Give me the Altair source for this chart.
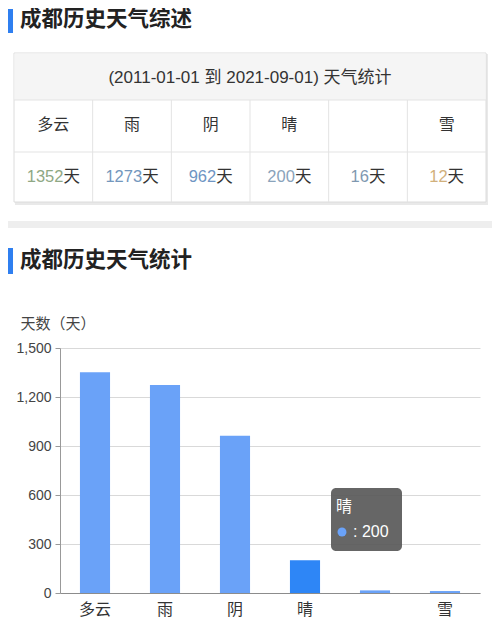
import altair as alt
import pandas as pd

FONT = "Liberation Sans, Noto Sans CJK SC, sans-serif"

# ---- data ----
categories = ["多云", "雨", "阴", "晴", " ", "雪"]
days = [1352, 1273, 962, 200, 16, 12]
value_colors = ["#8fa884", "#7397bd", "#6f95c3", "#8aa3bb", "#7f98b0", "#d1b07c"]
y_ticks = [0, 300, 600, 900, 1200, 1500]
title_summary = "成都历史天气综述"
title_stats = "成都历史天气统计"
table_header = "(2011-01-01 到 2021-09-01) 天气统计"
day_unit = "天"
y_title = "天数（天）"
highlight = "晴"

df = pd.DataFrame({
    "cat": categories,
    "days": days,
    "idx": list(range(len(categories))),
    "numstr": [str(d) for d in days],
})
one = alt.Chart(pd.DataFrame({"k": [0]}))
base = alt.Chart(df)


def X(field):
    return alt.X(field, type="quantitative",
                 scale=alt.Scale(domain=[0, 6], range=[-46, 426]), axis=None)


# ---- panel 1: summary table ----
bar1 = one.mark_rect(fill="#2f7ff0").encode(
    x=alt.value(-52), x2=alt.value(-47), y=alt.value(-2), y2=alt.value(22))
t1 = one.mark_text(text=title_summary, font=FONT, fontSize=21.5, fontWeight="bold",
                   color="#222", align="left", baseline="middle").encode(
    x=alt.value(-40), y=alt.value(9))
shadow = one.mark_rect(fill="#e9e9e9").encode(
    x=alt.value(-45), x2=alt.value(428), y=alt.value(43), y2=alt.value(194))
box = one.mark_rect(fill="white", stroke="#dcdcdc", strokeWidth=1).encode(
    x=alt.value(-46), x2=alt.value(426), y=alt.value(42), y2=alt.value(191))
head_bg = one.mark_rect(fill="#f5f5f5").encode(
    x=alt.value(-45.5), x2=alt.value(425.5), y=alt.value(42.5), y2=alt.value(89))
h1 = one.mark_rule(color="#e3e3e3").encode(
    x=alt.value(-46), x2=alt.value(426), y=alt.value(89))
h2 = one.mark_rule(color="#e3e3e3").encode(
    x=alt.value(-46), x2=alt.value(426), y=alt.value(141))
vlines = base.transform_filter("datum.idx > 0").mark_rule(color="#e3e3e3").encode(
    x=X("idx"), y=alt.value(89), y2=alt.value(191))
head_txt = one.mark_text(text=table_header, font=FONT, fontSize=17, color="#333",
                         baseline="middle").encode(x=alt.value(190), y=alt.value(67))
cat_txt = base.transform_calculate(cx="datum.idx + 0.5").mark_text(
    font=FONT, fontSize=16, color="#333", baseline="middle").encode(
    x=X("cx"), y=alt.value(114), text="cat:N")
numx = "datum.idx + 0.5 + (length(datum.numstr) * 9.2 - 16.5) / 2 / 78.67"
num_txt = base.transform_calculate(nx=numx).mark_text(
    font=FONT, fontSize=16.5, align="right", baseline="middle").encode(
    x=X("nx"), y=alt.value(166), text="numstr:N",
    color=alt.Color("cat:N", scale=alt.Scale(domain=categories, range=value_colors),
                    legend=None))
unit_txt = base.transform_calculate(nx=numx).mark_text(
    text=day_unit, font=FONT, fontSize=16.5, align="left", baseline="middle",
    color="#333").encode(x=X("nx"), y=alt.value(166))
sep = one.mark_rect(fill="#eeeeee").encode(
    x=alt.value(-52), x2=alt.value(432), y=alt.value(210), y2=alt.value(217))
bar2 = one.mark_rect(fill="#2f7ff0").encode(
    x=alt.value(-52), x2=alt.value(-47), y=alt.value(237), y2=alt.value(263))
t2 = one.mark_text(text=title_stats, font=FONT, fontSize=21.5, fontWeight="bold",
                   color="#222", align="left", baseline="middle").encode(
    x=alt.value(-40), y=alt.value(250))

panel1 = alt.layer(bar1, t1, shadow, box, head_bg, h1, h2, vlines, head_txt,
                   cat_txt, num_txt, unit_txt, sep, bar2, t2).properties(
    width=420, height=337)

# ---- panel 2: bar chart ----
bars = base.mark_bar().encode(
    x=alt.X("cat:N", sort=categories,
            scale=alt.Scale(paddingInner=0.57, paddingOuter=0.285),
            axis=alt.Axis(title=None, labelAngle=0, labelFontSize=16, labelColor="#333",
                          labelFont=FONT, ticks=False, domainColor="#8c8c8c",
                          labelPadding=8, grid=False)),
    y=alt.Y("days:Q", scale=alt.Scale(domain=[0, 1500], nice=False),
            axis=alt.Axis(values=y_ticks, format=",.0f", title=y_title, titleAngle=0,
                          titleX=-40, titleY=-25, titleAlign="left",
                          titleBaseline="middle", titleFontSize=15,
                          titleFontWeight="normal", titleColor="#444", titleFont=FONT,
                          labelFont=FONT, labelFontSize=14, labelColor="#444",
                          gridColor="#d9d9d9", domainColor="#999", tickColor="#999",
                          tickSize=5, labelPadding=4)),
    color=alt.condition(alt.datum.cat == highlight, alt.value("#2e86f6"),
                        alt.value("#6aa2f8")),
)
tip = base.transform_filter(alt.datum.cat == highlight)
tip_box = tip.mark_rect(fill="#555555", opacity=0.9, cornerRadius=5).encode(
    x=alt.value(271), x2=alt.value(342), y=alt.value(140), y2=alt.value(203))
tip_cat = tip.mark_text(font=FONT, fontSize=16, color="white", align="left",
                        baseline="middle").encode(
    x=alt.value(276), y=alt.value(159), text="cat:N")
tip_dot = tip.mark_point(shape="circle", filled=True, size=80, opacity=1,
                         color="#6aa2f8").encode(x=alt.value(282), y=alt.value(184))
tip_val = tip.transform_calculate(lab="': ' + datum.days").mark_text(
    font=FONT, fontSize=16, color="white", align="left", baseline="middle").encode(
    x=alt.value(293), y=alt.value(184), text="lab:N")

panel2 = alt.layer(bars, tip_box, tip_cat, tip_dot, tip_val).properties(
    width=420, height=245)

chart = alt.vconcat(panel1, panel2, spacing=0, bounds="flush").properties(
    padding={"left": 0, "top": 1, "right": 0, "bottom": 0}).configure_view(stroke=None)

chart.save("out.html", embed_options={"renderer": "svg", "actions": False})
